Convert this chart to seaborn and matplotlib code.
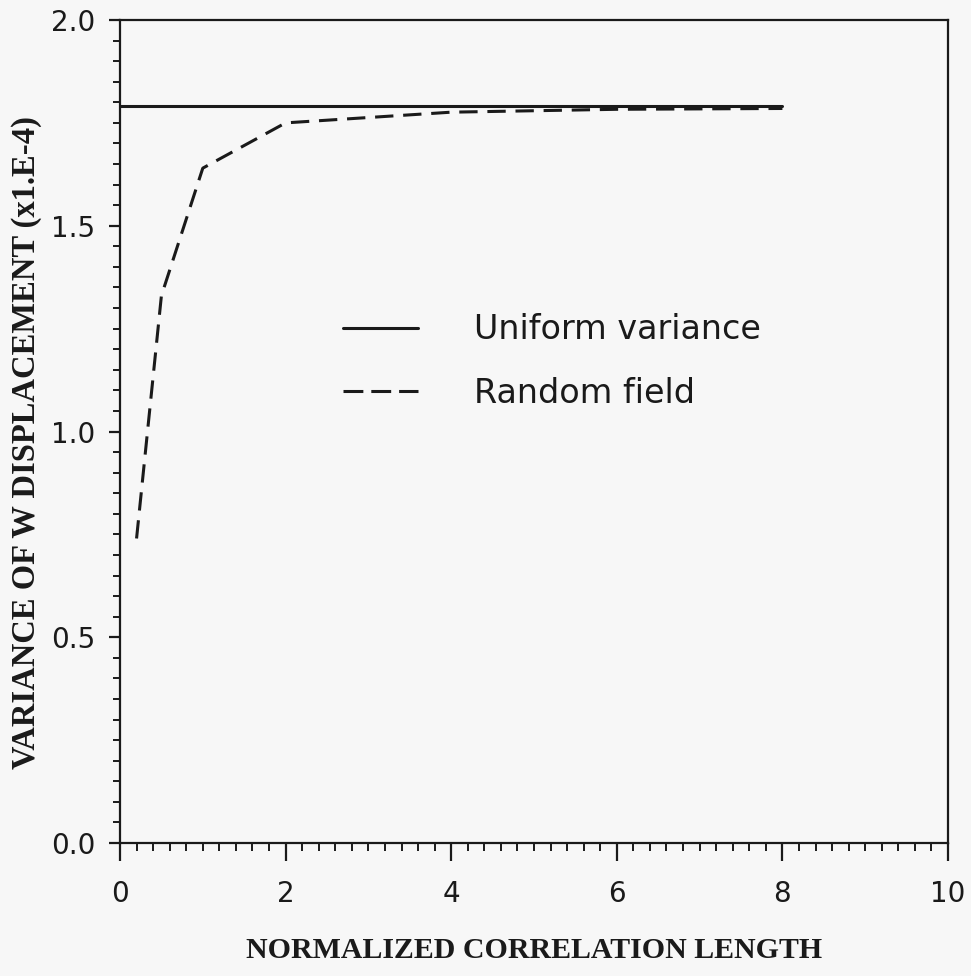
import matplotlib
matplotlib.use("Agg")
import matplotlib.pyplot as plt
from matplotlib.ticker import MultipleLocator, FixedLocator
import seaborn as sns
import pandas as pd

# Series
uniform_x = [0.0, 8.0]
uniform_y = [1.79, 1.79]

random_x = [0.2, 0.5, 1.0, 2.0, 4.0, 6.0, 8.0]
random_y = [0.74, 1.33, 1.64, 1.75, 1.776, 1.783, 1.785]

x_ticks = [0, 2, 4, 6, 8, 10]
x_tick_labels = ["0", "2", "4", "6", "8", "10"]
y_ticks = [0.0, 0.5, 1.0, 1.5, 2.0]
y_tick_labels = ["0.0", "0.5", "1.0", "1.5", "2.0"]

legend_labels = ["Uniform variance", "Random field"]

sns.set_style("ticks")
plt.rcParams["font.family"] = ["DejaVu Sans"]

ink = "#1a1a1a"
bg = "#f7f7f7"
fig = plt.figure(figsize=(9.71, 9.76), dpi=100, facecolor=bg)
ax = fig.add_axes([120 / 971, 1 - 843 / 976, 828 / 971, 823 / 976])
ax.set_facecolor(bg)

uniform = pd.DataFrame({"x": uniform_x, "y": uniform_y})
random_field = pd.DataFrame({"x": random_x, "y": random_y})

sns.lineplot(data=uniform, x="x", y="y", ax=ax, color=ink, lw=2.2,
             label=legend_labels[0], sort=False)
sns.lineplot(data=random_field, x="x", y="y", ax=ax, color=ink, lw=2.2,
             label=legend_labels[1], sort=False)
ax.lines[1].set_dashes((6, 3.2))

ax.set_xlim(0, 10)
ax.set_ylim(0, 2.0)

ax.xaxis.set_major_locator(FixedLocator(x_ticks))
ax.set_xticklabels(x_tick_labels)
ax.xaxis.set_minor_locator(MultipleLocator(0.2))
ax.yaxis.set_major_locator(FixedLocator(y_ticks))
ax.set_yticklabels(y_tick_labels)
ax.yaxis.set_minor_locator(MultipleLocator(0.05))

for s in ax.spines.values():
    s.set_linewidth(1.6)
    s.set_color(ink)
    s.set_visible(True)

ax.tick_params(axis="x", which="major", direction="out", length=13, width=1.6,
               pad=14, labelsize=20, colors=ink)
ax.tick_params(axis="x", which="minor", direction="out", length=6, width=1.4,
               colors=ink)
ax.tick_params(axis="y", which="major", direction="out", length=8, width=1.6,
               pad=10, labelsize=20, colors=ink)
ax.tick_params(axis="y", which="minor", direction="out", length=5, width=1.4,
               colors=ink)
ax.tick_params(top=False, right=False, which="both")

ax.set_xlabel("NORMALIZED CORRELATION LENGTH", family="Liberation Serif",
              fontweight="bold", fontsize=21.5, color=ink)
ax.xaxis.set_label_coords(0.5, -0.114)
ax.set_ylabel("VARIANCE OF W DISPLACEMENT (x1.E-4)", family="Liberation Serif",
              fontweight="bold", fontsize=23.5, color=ink)
ax.yaxis.set_label_coords(-0.094, 0.487)

leg = ax.legend(loc="center left", bbox_to_anchor=(0.269, 0.585), frameon=False,
                prop={"family": "DejaVu Sans", "size": 24},
                handlelength=2.25, handletextpad=1.7, labelspacing=0.92,
                borderaxespad=0, borderpad=0)
for t in leg.get_texts():
    t.set_color(ink)
for h in leg.get_lines():
    h.set_linewidth(2.2)
leg.get_lines()[1].set_dashes((6.5, 2.6))

fig.savefig("out.png", dpi=100, facecolor=bg)
